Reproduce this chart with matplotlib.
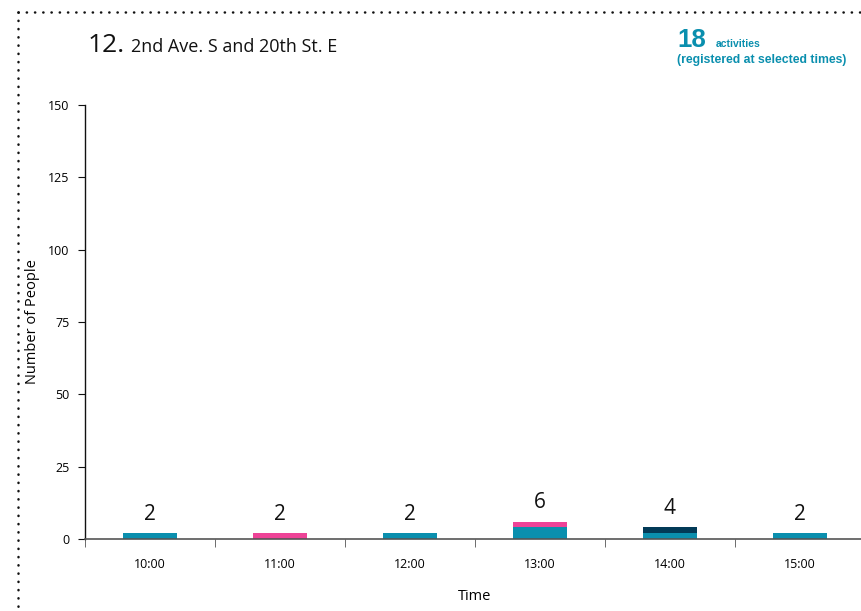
import matplotlib
matplotlib.use("Agg")
import matplotlib.pyplot as plt
from matplotlib.lines import Line2D
import numpy as np

times = ["10:00", "11:00", "12:00", "13:00", "14:00", "15:00"]
teal_vals = [2, 0, 2, 4, 2, 2]
pink_vals = [0, 2, 0, 2, 0, 0]
navy_vals = [0, 0, 0, 0, 2, 0]
totals = [2, 2, 2, 6, 4, 2]
yticks = [0, 25, 50, 75, 100, 125, 150]

TEAL = "#0A8FAE"
PINK = "#EE4397"
NAVY = "#023A57"

plt.rcParams['font.family'] = ['Open Sans', 'DejaVu Sans']

W, H = 861, 611
fig = plt.figure(figsize=(W/100, H/100), dpi=100)
left = 85 / W
bottom = (H - 539) / H
top = (H - 105) / H
width = 780 / W
ax = fig.add_axes([left, bottom, width, top - bottom])

x = np.arange(len(times))
bw = 0.41
teal = np.array(teal_vals)
pink = np.array(pink_vals)
navy = np.array(navy_vals)
ax.bar(x, teal, bw, color=TEAL, zorder=2)
ax.bar(x, pink, bw, bottom=teal, color=PINK, zorder=2)
ax.bar(x, navy, bw, bottom=teal + pink, color=NAVY, zorder=2)

for xi, t in zip(x, totals):
    ax.annotate(str(t), (xi, t), xytext=(0, 6), textcoords="offset points",
                ha="center", va="bottom", fontsize=15, color="#111111")

ax.set_xlim(-0.5, len(times) - 0.5)
ax.set_ylim(0, 150)
ax.set_yticks(yticks)
ax.set_yticklabels([str(v) for v in yticks], fontsize=9)
ax.set_xticks(x)
ax.set_xticklabels(times, fontsize=9)
ax.set_xticks(np.arange(len(times) + 1) - 0.5, minor=True)
ax.tick_params(axis="x", which="major", length=0, pad=14)
ax.tick_params(axis="x", which="minor", length=6, color="#555555", direction="out")
ax.tick_params(axis="y", length=5, color="#111111", direction="out", pad=6)

for s in ["top", "right"]:
    ax.spines[s].set_visible(False)
ax.spines["bottom"].set_color("#555555")
ax.spines["bottom"].set_linewidth(1.2)
ax.spines["left"].set_color("#111111")
ax.spines["left"].set_linewidth(1.0)

ax.set_xlabel("Time", fontsize=10.5, labelpad=13)
ax.set_ylabel("Number of People", fontsize=10.5, labelpad=6)

# Title
fig.text(88 / W, 1 - 52 / H, "12.", fontsize=19, color="#111111", va="baseline", ha="left")
fig.text(131 / W, 1 - 52 / H, "2nd Ave. S and 20th St. E", fontsize=13, color="#111111",
         va="baseline", ha="left")

# Activities
fig.text(677 / W, 1 - 47 / H, "18", fontsize=18.5, fontweight="bold", color=TEAL,
         family=["Liberation Sans", "DejaVu Sans"], va="baseline", ha="left")
fig.text(716 / W, 1 - 47 / H, "activities", fontsize=7.5, fontweight="bold", color=TEAL,
         family=["Liberation Sans", "DejaVu Sans"], va="baseline", ha="left")
fig.text(677 / W, 1 - 63 / H, "(registered at selected times)", fontsize=8.8, fontweight="bold",
         color=TEAL, family=["Liberation Sans", "DejaVu Sans"], va="baseline", ha="left")

# Dotted border
dot = (0, (0.1, 3.2))
fig.add_artist(Line2D([18 / W, 1.0], [1 - 12 / H, 1 - 12 / H], transform=fig.transFigure,
                      color="#111111", linewidth=1.8, linestyle=dot, dash_capstyle="round"))
fig.add_artist(Line2D([18 / W, 18 / W], [1 - 12 / H, 0.0], transform=fig.transFigure,
                      color="#111111", linewidth=1.8, linestyle=dot, dash_capstyle="round"))

fig.savefig("out.png", dpi=100)
